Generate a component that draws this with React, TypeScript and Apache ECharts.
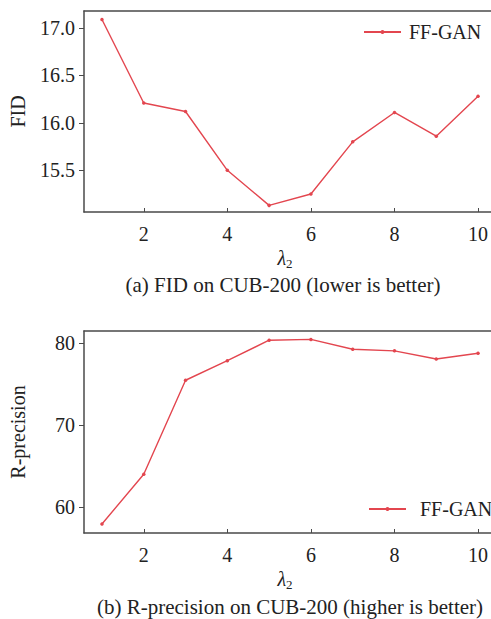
import React, { useEffect, useRef } from "react";
import * as echarts from "echarts";

const xValues = [1, 2, 3, 4, 5, 6, 7, 8, 9, 10];
const fidValues = [17.09, 16.21, 16.12, 15.5, 15.13, 15.25, 15.8, 16.11, 15.86, 16.28];
const rpValues = [57.9, 64.0, 75.5, 77.9, 80.4, 80.5, 79.3, 79.1, 78.1, 78.8];
const xTicks = [2, 4, 6, 8, 10];
const fidTicks = [15.5, 16.0, 16.5, 17.0];
const rpTicks = [60, 70, 80];
const seriesName = "FF-GAN";
const captionA = "(a) FID on CUB-200 (lower is better)";
const captionB = "(b) R-precision on CUB-200 (higher is better)";

const FONT = "Liberation Serif";
const RED = "#e3464f";
const AXIS = "#4a4a4a";
const TEXT = "#222";

export default function App() {
  const ref = useRef<HTMLDivElement>(null);
  useEffect(() => {
    if (!ref.current) return;
    const chart = echarts.init(ref.current, null, { renderer: "svg" });
    const xMain = (gi: number) => ({
      type: "value",
      gridIndex: gi,
      min: 0.57,
      max: 10.3,
      position: "bottom",
      axisLine: { show: true, lineStyle: { color: AXIS, width: 1.5 } },
      axisTick: { show: true, inside: true, length: 4, customValues: xTicks, lineStyle: { color: AXIS } },
      axisLabel: { show: true, customValues: xTicks, margin: 12, color: TEXT, fontFamily: FONT, fontSize: 20 },
      splitLine: { show: false },
    });
    const xFrame = (gi: number) => ({
      type: "value",
      gridIndex: gi,
      min: 0.57,
      max: 10.3,
      position: "top",
      axisLine: { show: true, lineStyle: { color: AXIS, width: 1.5 } },
      axisTick: { show: false },
      axisLabel: { show: false },
      splitLine: { show: false },
    });
    const yAxis = (gi: number, min: number, max: number, ticks: number[], name: string, fmt: (v: number) => string) => ({
      type: "value",
      gridIndex: gi,
      min,
      max,
      name,
      nameLocation: "middle",
      nameRotate: 90,
      nameGap: 56,
      nameTextStyle: { color: TEXT, fontFamily: FONT, fontSize: 20 },
      axisLine: { show: true, lineStyle: { color: AXIS, width: 1.5 } },
      axisTick: { show: true, inside: false, length: 5, customValues: ticks, lineStyle: { color: AXIS } },
      axisLabel: { show: true, customValues: ticks, margin: 9, color: TEXT, fontFamily: FONT, fontSize: 20, formatter: fmt },
      splitLine: { show: false },
    });
    const lam = (x: number, y: number) => ({
      type: "text",
      x,
      y,
      style: {
        text: "{a|λ}{b|2}",
        align: "center",
        verticalAlign: "middle",
        fill: TEXT,
        rich: {
          a: { fontFamily: FONT, fontStyle: "italic", fontSize: 20, lineHeight: 24, fill: TEXT },
          b: { fontFamily: FONT, fontSize: 13, lineHeight: 14, verticalAlign: "bottom", fill: TEXT },
        },
      },
    });
    const caption = (x: number, y: number, text: string) => ({
      type: "text",
      x,
      y,
      style: { text, align: "center", verticalAlign: "middle", fill: TEXT, fontFamily: FONT, fontSize: 21 },
    });
    const series = (xi: number, yi: number, vals: number[]) => ({
      name: seriesName,
      type: "line",
      xAxisIndex: xi,
      yAxisIndex: yi,
      data: xValues.map((x, i) => [x, vals[i]]),
      symbol: "circle",
      symbolSize: 3.5,
      showSymbol: true,
      lineStyle: { color: RED, width: 1.4 },
      itemStyle: { color: RED },
    });
    const legend = (left: number, top: number, gap: number) => ({
      data: [seriesName],
      left,
      top,
      padding: 0,
      itemWidth: 37,
      itemHeight: 5,
      itemGap: 0,
      selectedMode: false,
      textStyle: { color: TEXT, fontFamily: FONT, fontSize: 20, padding: [0, 0, 0, gap] },
    });
    chart.setOption({
      animation: false,
      backgroundColor: "#fff",
      grid: [
        { left: 82, top: 11, right: 0, height: 201 },
        { left: 82, top: 331, right: 0, height: 202 },
      ],
      xAxis: [xMain(0), xFrame(0), xMain(1), xFrame(1)],
      yAxis: [
        yAxis(0, 15.06, 17.18, fidTicks, "FID", (v: number) => v.toFixed(1)),
        yAxis(1, 56.8, 81.53, rpTicks, "R-precision", (v: number) => String(v)),
      ],
      legend: [legend(363, 22, 3), legend(368, 499, 9)],
      series: [series(0, 0, fidValues), series(2, 1, rpValues)],
      graphic: [
        lam(285, 258),
        caption(283, 285, captionA),
        lam(285, 579),
        caption(290, 607, captionB),
      ],
    });
    return () => chart.dispose();
  }, []);
  return <div ref={ref} style={{ position: "fixed", left: 0, top: 0, width: 491, height: 619 }} />;
}
